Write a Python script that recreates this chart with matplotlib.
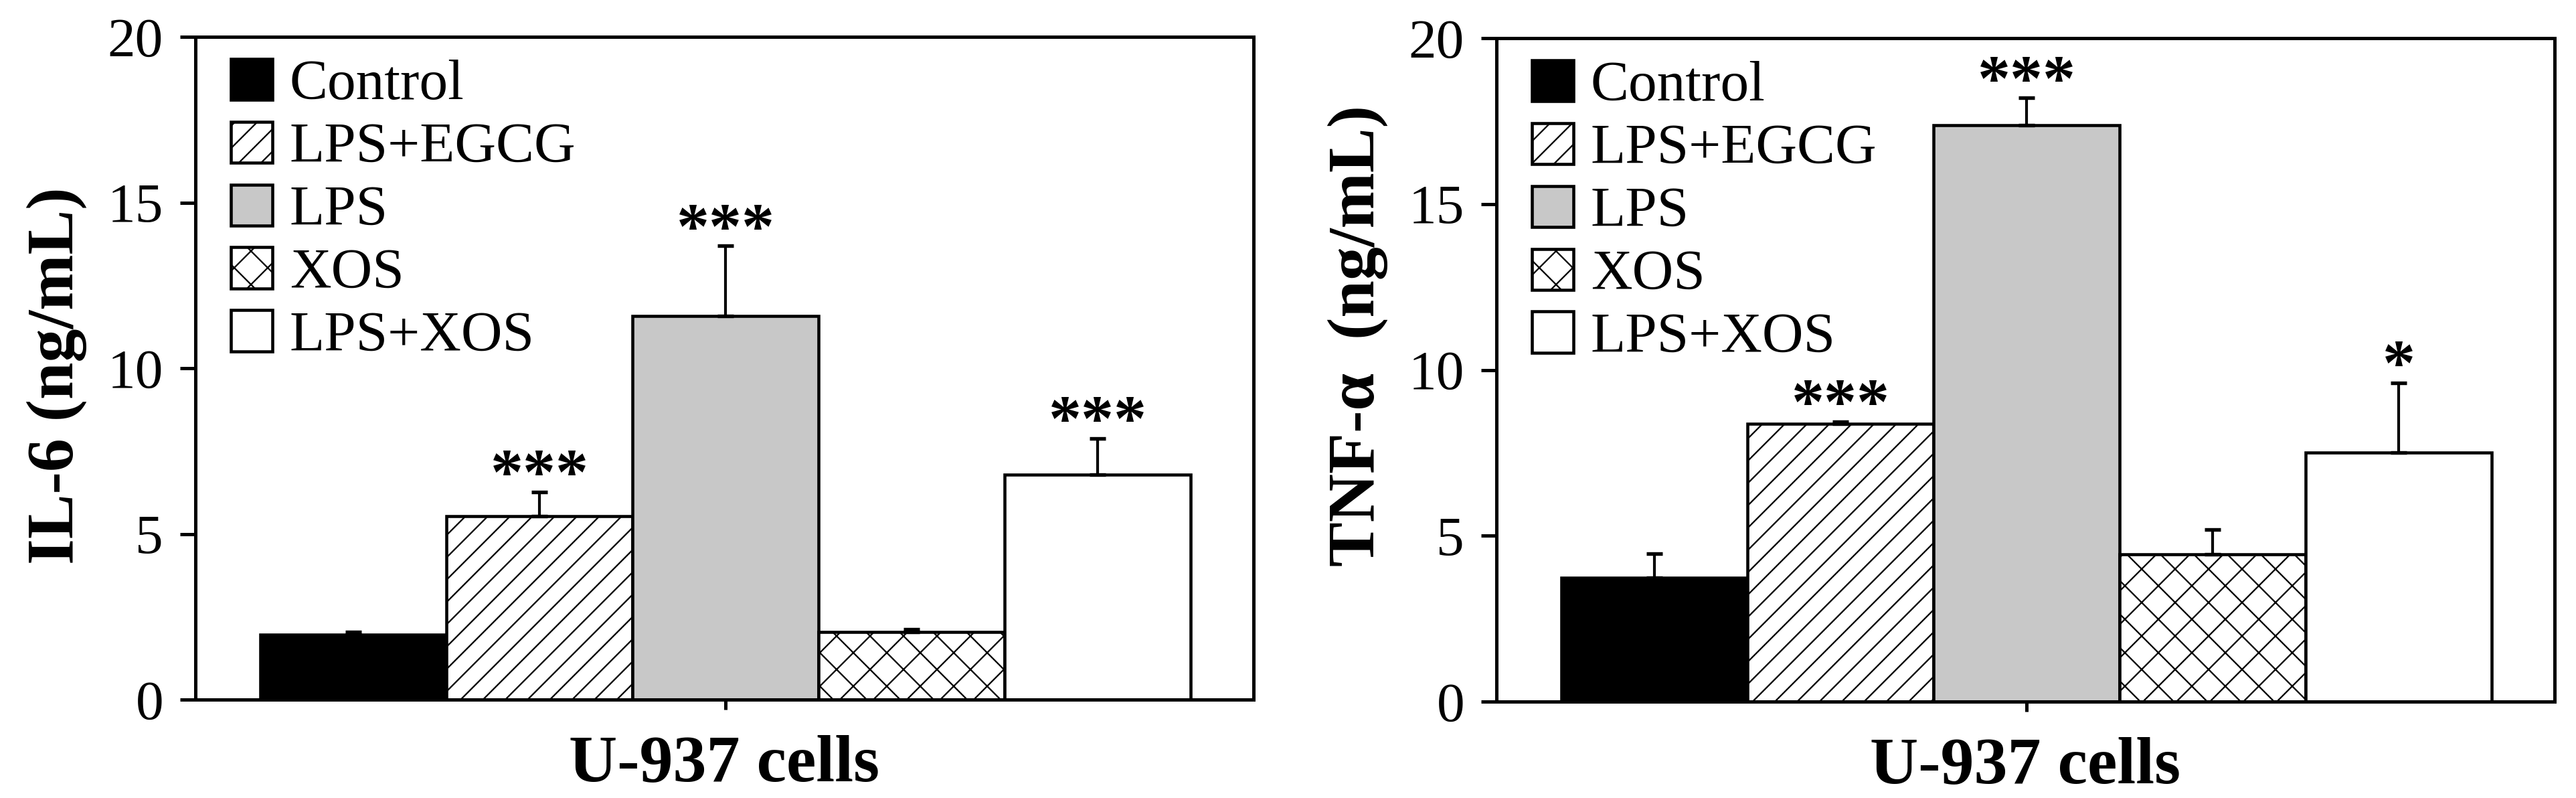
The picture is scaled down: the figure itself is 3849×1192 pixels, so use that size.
import matplotlib
matplotlib.use('Agg')
import matplotlib.pyplot as plt
import numpy as np

# ---------------- data ----------------
groups = ['Control', 'LPS+EGCG', 'LPS', 'XOS', 'LPS+XOS']
il6_mean = [1.95, 5.53, 11.57, 2.04, 6.79]
il6_err = [0.09, 0.74, 2.12, 0.09, 1.09]
il6_sig = ['', '***', '***', '', '***']
tnf_mean = [3.73, 8.38, 17.38, 4.45, 7.51]
tnf_err = [0.74, 0.06, 0.82, 0.74, 2.10]
tnf_sig = ['', '***', '***', '', '*']
xlabel_text = 'U-937 cells'
ylabel_texts = ['IL-6 (ng/mL)', 'TNF-α  (ng/mL)']
yticks = [0, 5, 10, 15, 20]

# ---------------- style ----------------
facecolors = ['black', 'white', '#c8c8c8', 'white', 'white']
hatches = [None, '///', None, 'xx', None]

plt.rcParams['font.family'] = ['Liberation Serif', 'DejaVu Serif']
plt.rcParams['hatch.linewidth'] = 0.55
plt.rcParams['hatch.color'] = 'black'

W, H, DPI = 3849, 1192, 300
fig = plt.figure(figsize=(W / DPI, H / DPI), dpi=DPI)

axes_px = [(292, 1873, 55, 1045), (2236, 3817, 57, 1048)]
panels = [(il6_mean, il6_err, il6_sig), (tnf_mean, tnf_err, tnf_sig)]

for (x0, x1, y0, y1), (means, errs, sigs), ylab in zip(axes_px, panels, ylabel_texts):
    ax = fig.add_axes([x0 / W, 1 - y1 / H, (x1 - x0) / W, (y1 - y0) / H])
    x = np.arange(len(groups))
    for i in range(len(groups)):
        ax.bar(x[i], means[i], width=1.0, color=facecolors[i], edgecolor='black',
               linewidth=1.1, hatch=hatches[i], label=groups[i], zorder=2)
    ax.errorbar(x, means, yerr=[np.zeros(len(errs)), errs], fmt='none',
                ecolor='black', elinewidth=1.0, capsize=2.9, capthick=1.3, zorder=3)
    for i, s in enumerate(sigs):
        if s:
            ax.text(x[i], means[i] + errs[i] - 0.05, s, ha='center', va='baseline',
                    fontsize=23.5, fontweight='bold', zorder=4)

    ax.set_xlim(-0.849, 4.838)
    ax.set_ylim(0, 20)
    ax.set_yticks(yticks)
    ax.set_yticklabels([str(t) for t in yticks], fontsize=20)
    ax.set_xticks([2])
    ax.set_xticklabels([''])
    ax.tick_params(axis='y', direction='out', length=5.5, width=1.2, pad=6)
    ax.tick_params(axis='x', direction='out', length=3.5, width=1.2)
    for sp in ax.spines.values():
        sp.set_linewidth(1.2)
        sp.set_color('black')

    ax.text(-0.131, 0.204, ylab, transform=ax.transAxes, rotation=90,
            ha='center', va='bottom', fontsize=24, fontweight='bold')
    ax.text(0.5, -0.1222, xlabel_text, transform=ax.transAxes, ha='center',
            va='baseline', fontsize=24, fontweight='bold')

    ax.legend(loc='upper left', bbox_to_anchor=(0.0335, 0.967), frameon=False,
              fontsize=20.5, handlelength=0.73, handleheight=0.73,
              labelspacing=0.18, handletextpad=0.3, borderpad=0, borderaxespad=0)

fig.savefig('out.png', dpi=DPI)
